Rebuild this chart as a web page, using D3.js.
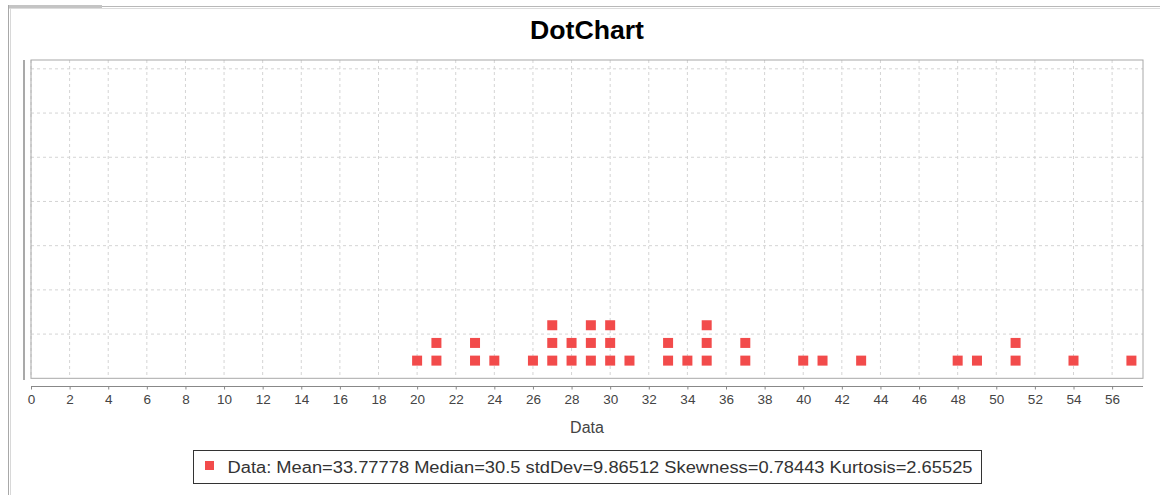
<!DOCTYPE html>
<html><head><meta charset="utf-8">
<script src="https://cdn.jsdelivr.net/npm/d3@7/dist/d3.min.js"></script>
<style>body{margin:0;background:#fff;}svg{display:block;}text{font-family:"Liberation Sans",Arial,sans-serif;}</style>
</head><body>
<svg id="c" width="1160" height="495"></svg>
<script>
// Data (raw observations)
const values = [20,21,21,23,23,24,26,27,27,27,28,28,29,29,29,30,30,30,31,33,33,34,35,35,35,37,37,40,41,43,48,49,51,51,54,57];
const xTicks = d3.range(0, 57, 2);
const yGrid = [2.5,5,7.5,10,12.5,15,17.5];
const title = "DotChart";
const xLabel = "Data";
const legendText = "Data: Mean=33.77778 Median=30.5 stdDev=9.86512 Skewness=0.78443 Kurtosis=2.65525";

const svg = d3.select("#c");
const L = 31, R = 1143, T = 60, B = 378.3;
const x = d3.scaleLinear().domain([0, 57.6]).range([L, R]);
const y = d3.scaleLinear().domain([0, 18]).range([B, T]);

// window / tab frame artifacts
svg.append("line").attr("x1",8).attr("x2",1160).attr("y1",6.5).attr("y2",6.5).attr("stroke","#b8b8b8");
svg.append("line").attr("x1",8).attr("x2",1160).attr("y1",8.5).attr("y2",8.5).attr("stroke","#dcdcdc");
svg.append("rect").attr("x",8).attr("y",5).attr("width",94).attr("height",3).attr("fill","#c4c4c4");
svg.append("line").attr("x1",8.5).attr("x2",8.5).attr("y1",5).attr("y2",495).attr("stroke","#a8a8a8");
svg.append("line").attr("x1",10.5).attr("x2",10.5).attr("y1",8).attr("y2",495).attr("stroke","#d8d8d8");

// title
svg.append("text").attr("x",(L+R)/2).attr("y",39).attr("text-anchor","middle")
  .attr("font-size",25).attr("font-weight","bold").attr("fill","#000")
  .attr("textLength",114).attr("lengthAdjust","spacingAndGlyphs").text(title);

// grid
const g = svg.append("g");
g.selectAll(".vg").data(xTicks).join("line")
  .attr("x1",d=>x(d)).attr("x2",d=>x(d)).attr("y1",T).attr("y2",B)
  .attr("stroke","#d4d4d4").attr("stroke-dasharray","3,3");
g.selectAll(".hg").data(yGrid).join("line")
  .attr("x1",L).attr("x2",R).attr("y1",d=>y(d)).attr("y2",d=>y(d))
  .attr("stroke","#d4d4d4").attr("stroke-dasharray","3,3");

// plot border
svg.append("rect").attr("x",L).attr("y",T).attr("width",R-L).attr("height",B-T)
  .attr("fill","none").attr("stroke","#a8a8a8");

// hidden y-axis line
svg.append("line").attr("x1",24).attr("x2",24).attr("y1",T).attr("y2",380)
  .attr("stroke","#8c8c8c").attr("stroke-width",1.5);

// x axis
const xAxis = d3.axisBottom(x).tickValues(xTicks).tickSize(3).tickPadding(5).tickFormat(d3.format("d"));
const ax = svg.append("g").attr("transform","translate(0,386.5)").call(xAxis);
ax.select(".domain").attr("stroke","#888").attr("d",`M${L},0H${R}`);
ax.selectAll(".tick line").attr("stroke","#888");
ax.selectAll(".tick text").attr("font-size",13.5).attr("fill","#444").attr("font-family","'Liberation Sans',Arial,sans-serif");

svg.append("text").attr("x",(L+R)/2).attr("y",433).attr("text-anchor","middle")
  .attr("font-size",16).attr("fill","#444").text(xLabel);

// dots (stacked by count)
const counts = {};
const pts = values.map(v => { counts[v] = (counts[v]||0)+1; return {v, k: counts[v]}; });
const S = 10;
svg.selectAll(".dot").data(pts).join("rect")
  .attr("x", d => x(d.v) - S/2).attr("y", d => y(d.k) - S/2)
  .attr("width", S).attr("height", S).attr("fill", "#f24b4b");

// legend
svg.append("rect").attr("x",193.5).attr("y",450.5).attr("width",788).attr("height",33)
  .attr("fill","#fff").attr("stroke","#333");
svg.append("rect").attr("x",205).attr("y",461).attr("width",9).attr("height",9).attr("fill","#f24b4b");
svg.append("text").attr("x",227.5).attr("y",472.5).attr("font-size",16).attr("fill","#333")
  .attr("textLength",745).attr("lengthAdjust","spacingAndGlyphs").text(legendText);
</script>
</body></html>
